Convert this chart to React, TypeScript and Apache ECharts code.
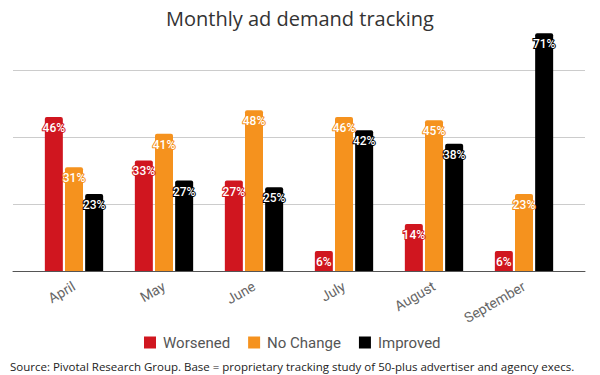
import React, { useEffect, useRef } from "react";
import * as echarts from "echarts";

const months = ["April", "May", "June", "July", "August", "September"];
const worsened = [46, 33, 27, 6, 14, 6];
const noChange = [31, 41, 48, 46, 45, 23];
const improved = [23, 27, 25, 42, 38, 71];
const seriesNames = ["Worsened", "No Change", "Improved"];
const colors = ["#d0161f", "#f5921e", "#000000"];

export default function App() {
  const ref = useRef<HTMLDivElement>(null);
  useEffect(() => {
    if (!ref.current) return;
    const chart = echarts.init(ref.current, undefined, { renderer: "svg" });
    const datasets = [worsened, noChange, improved];
    chart.setOption({
      animation: false,
      backgroundColor: "#ffffff",
      title: [
        {
          text: "Monthly ad demand tracking",
          left: "center",
          top: 3,
          textStyle: { fontFamily: "Open Sans", fontSize: 20, fontWeight: "normal", color: "#333333" },
        },
        {
          text: "Source: Pivotal Research Group. Base = proprietary tracking study of 50-plus advertiser and agency execs.",
          left: 5,
          top: 355,
          textStyle: { fontFamily: "Open Sans", fontSize: 11.5, fontWeight: "normal", color: "#222222" },
        },
      ],
      legend: {
        data: seriesNames,
        left: 139,
        top: 330,
        icon: "rect",
        itemWidth: 12,
        itemHeight: 12,
        itemGap: 18,
        textStyle: { fontFamily: "Roboto", fontSize: 15, color: "#555555", padding: [0, 0, 0, 2] },
      },
      grid: [
        { left: 13, right: 15, top: 3, bottom: 104 },
        { left: 29, right: 31, top: 3, bottom: 104 },
      ],
      xAxis: [
        {
          type: "category",
          gridIndex: 0,
          data: [""],
          axisLine: { show: true, lineStyle: { color: "#555555", width: 1 } },
          axisTick: { show: false },
          axisLabel: { show: false },
        },
        {
          type: "category",
          gridIndex: 1,
          data: months,
          axisLine: { show: false },
          axisTick: { show: false },
          axisLabel: {
            rotate: 30,
            margin: 14,
            fontFamily: "Roboto",
            fontSize: 14,
            color: "#666666",
          },
        },
      ],
      yAxis: [
        {
          type: "value",
          gridIndex: 0,
          min: 0,
          max: 80,
          interval: 20,
          axisLabel: { show: false },
          axisLine: { show: false },
          axisTick: { show: false },
          splitLine: {
            show: true,
            lineStyle: { color: ["#cccccc", "#cccccc", "#cccccc", "#cccccc", "transparent"], width: 1 },
          },
        },
        {
          type: "value",
          gridIndex: 1,
          min: 0,
          max: 80,
          interval: 20,
          axisLabel: { show: false },
          axisLine: { show: false },
          axisTick: { show: false },
          splitLine: { show: false },
        },
      ],
      series: seriesNames.map((name, i) => ({
        name,
        type: "bar",
        xAxisIndex: 1,
        yAxisIndex: 1,
        data: datasets[i],
        barWidth: 18,
        barGap: "12%",
        itemStyle: { color: colors[i], borderRadius: [2, 2, 0, 0] },
        label: {
          show: true,
          position: "insideTop",
          distance: 5,
          formatter: "{c}%",
          fontFamily: "Roboto",
          fontSize: 12,
          fontWeight: 500,
          color: "#ffffff",
          textBorderColor: colors[i],
          textBorderWidth: 2,
        },
      })),
    });
    return () => chart.dispose();
  }, []);
  return <div ref={ref} style={{ width: 600, height: 375, position: "absolute", left: 0, top: 0 }} />;
}
